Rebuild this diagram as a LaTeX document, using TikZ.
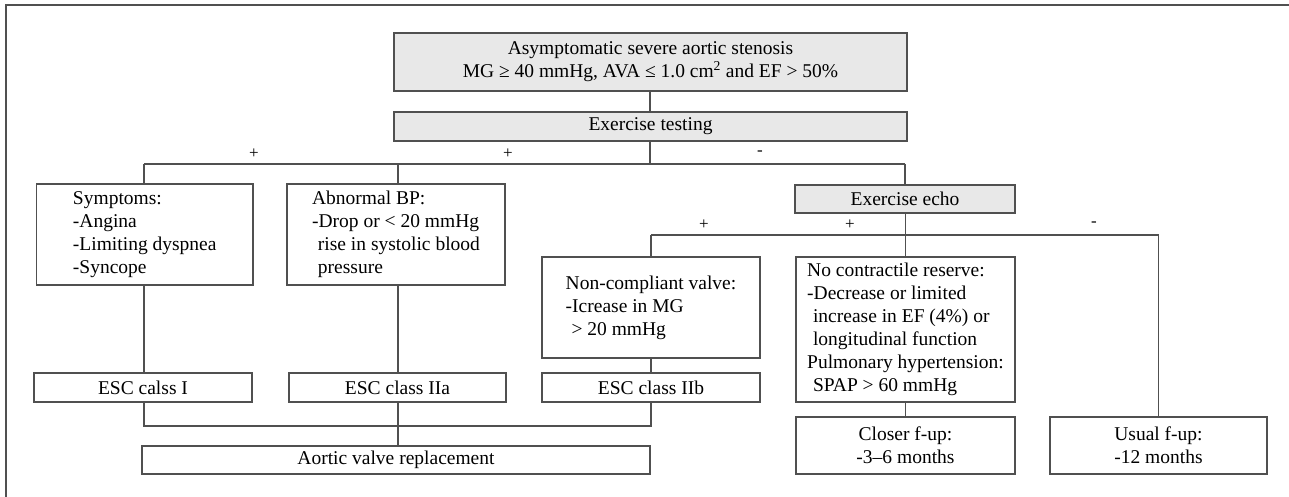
\documentclass[tikz,border=0pt]{standalone}
\usepackage{fontspec}
\setmainfont{Liberation Serif}
\definecolor{boxfill}{HTML}{E8E8E8}
\definecolor{linec}{HTML}{505050}
\begin{document}
\begin{tikzpicture}[x=1pt,y=-1pt,
  bx/.style={draw=linec, line width=1.1pt, rectangle, inner sep=0pt, align=left,
    font=\fontsize{19.5}{23}\selectfont},
  gbx/.style={bx, fill=boxfill, align=center},
  conn/.style={draw=linec, line width=1.1pt},
  lbl/.style={font=\fontsize{17}{20}\selectfont, inner sep=0pt}]
\useasboundingbox (0,0) rectangle (1289,497);
% frame
\draw[conn] (6,497) -- (6,5) -- (1289,5);
% boxes
\node[gbx, minimum width=513pt, minimum height=58pt] (top) at (650.5,62)
  {Asymptomatic severe aortic stenosis\\MG ≥ 40 mmHg, AVA ≤ 1.0 cm\textsuperscript{2} and EF > 50\%};
\node[gbx, minimum width=513pt, minimum height=29pt] (ex) at (650.5,126.5) {Exercise testing};
\node[bx, minimum width=216.5pt, minimum height=101pt] (sym) at (144.75,234.5)
  {Symptoms:\\-Angina\\-Limiting dyspnea\\-Syncope};
\node[bx, minimum width=218pt, minimum height=101pt] (abp) at (396,234.5)
  {Abnormal BP:\\-Drop or < 20 mmHg\\\hspace*{0.3em}rise in systolic blood\\\hspace*{0.3em}pressure};
\node[gbx, minimum width=220pt, minimum height=28pt] (echo) at (905,199) {Exercise echo};
\node[bx, minimum width=218pt, minimum height=101pt] (ncv) at (651,307.5)
  {Non-compliant valve:\\-Icrease in MG\\\hspace*{0.3em}> 20 mmHg};
\node[bx, minimum width=219pt, minimum height=145pt] (ncr) at (905.5,329.5)
  {No contractile reserve:\\-Decrease or limited\\\hspace*{0.3em}increase in EF (4\%) or\\\hspace*{0.3em}longitudinal function\\Pulmonary hypertension:\\\hspace*{0.3em}SPAP > 60 mmHg};
\node[bx, align=center, minimum width=218pt, minimum height=29pt] (esc1) at (143,387.5) {ESC calss I};
\node[bx, align=center, minimum width=217pt, minimum height=29pt] (esc2a) at (397.5,387.5) {ESC class IIa};
\node[bx, align=center, minimum width=218pt, minimum height=29pt] (esc2b) at (651,387.5) {ESC class IIb};
\node[bx, align=center, minimum width=508pt, minimum height=28pt] (avr) at (396,460) {Aortic valve replacement};
\node[bx, align=center, minimum width=219pt, minimum height=57pt] (closer) at (905.5,445.5) {Closer f-up:\\-3–6 months};
\node[bx, align=center, minimum width=217pt, minimum height=57pt] (usual) at (1158.5,445.5) {Usual f-up:\\-12 months};
% junction coordinates
\coordinate (h1L) at (144,164);
\coordinate (h1M) at (650,164);
\coordinate (h1A) at (398,164);
\coordinate (h1R) at (905,164);
\coordinate (h2L) at (651,235);
\coordinate (h2M) at (905.5,235);
\coordinate (h2R) at (1158.5,235);
\coordinate (h3L) at (144,426);
\coordinate (h3A) at (398,426);
\coordinate (h3R) at (651,426);
% connectors
\draw[conn] (top.south -| h1M) -- (ex.north -| h1M);
\draw[conn] (ex.south -| h1M) -- (h1M);
\draw[conn] (h1L) -- (h1R);
\draw[conn] (h1L) -- (sym.north -| h1L);
\draw[conn] (h1A) -- (abp.north -| h1A);
\draw[conn] (h1R) -- (echo.north);
\draw[conn] (echo.south -| h2M) -- (h2M);
\draw[conn] (h2L) -- (h2R);
\draw[conn] (h2L) -- (ncv.north);
\draw[conn] (h2M) -- (ncr.north);
\draw[conn] (h2R) -- (usual.north);
\draw[conn] (sym.south -| h1L) -- (esc1.north -| h1L);
\draw[conn] (abp.south -| h1A) -- (esc2a.north -| h1A);
\draw[conn] (ncv.south) -- (esc2b.north);
\draw[conn] (ncr.south) -- (closer.north);
\draw[conn] (esc1.south -| h3L) -- (h3L) -- (h3R) -- (esc2b.south -| h3R);
\draw[conn] (esc2a.south -| h3A) -- (avr.north -| h3A);
% labels
\node[lbl] (p1) at (254,154) {+};
\node[lbl] (p2) at (508,154) {+};
\node[lbl] (m1) at (760,153) {-};
\node[lbl] (p3) at (704,225) {+};
\node[lbl] (p4) at (850,225) {+};
\node[lbl] (m2) at (1094,224) {-};
\end{tikzpicture}
\end{document}
